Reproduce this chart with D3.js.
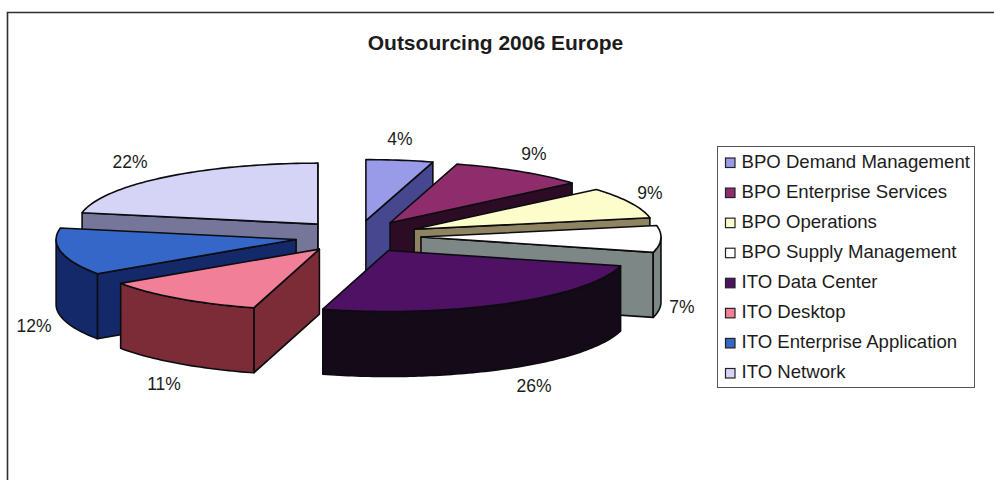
<!DOCTYPE html>
<html>
<head>
<meta charset="utf-8">
<script src="https://cdn.jsdelivr.net/npm/d3@7"></script>
<style>
  html, body { margin: 0; padding: 0; background: #fff; }
  text { font-family: "Liberation Sans", Arial, sans-serif; fill: #1c1c1c; }
</style>
</head>
<body>
<svg id="chart" width="994" height="480" style="display:block"></svg>
<script>
// Outsourcing spend by service line, clockwise from twelve o'clock
const categories = [
  "BPO Demand Management", "BPO Enterprise Services", "BPO Operations",
  "BPO Supply Management", "ITO Data Center", "ITO Desktop",
  "ITO Enterprise Application", "ITO Network"
];
const shares = [4, 9, 9, 7, 26, 11, 12, 22];
const topColors  = ["#9a9be8", "#8f2c6c", "#fdfdcb", "#ffffff", "#4e1164", "#f27f98", "#3467c8", "#d6d4f6"];
const wallColors = ["#47478f", "#2b0c24", "#8e8462", "#7d8886", "#140a18", "#7b2c36", "#14296a", "#76769a"];
// Stacking order of the exploded wedges, farthest first
const paintOrder = [0, 7, 1, 2, 3, 6, 5, 4];
// Label anchor points in chart space, by category
const labelX = [400, 534, 650, 682, 534, 164, 34, 130];
const labelY = [145, 160, 199, 313, 392, 390, 332, 168];

const svg = d3.select("#chart");

// Tilted pie geometry
const center = { x: 358, y: 236.5 };
const radiusX = 240, radiusY = 61;
const explodeX = 63, explodeY = 16;
const depth = 65;

const pie = d3.pie().value(d => d).sort(null);
const arcs = pie(shares);

// Perspective pulls rim points slightly towards the near side of the disc
const projected = a => a + 0.03 * Math.sin(a) + 0.035 * Math.sin(3 * a);

// Squash an angle (clockwise from the top) onto the tilted ellipse
const onRim = (cx, cy, a, dz = 0) => {
  const t = projected(a);
  return [cx + radiusX * Math.sin(t), cy - radiusY * Math.cos(t) + dz];
};

function rimPoints(cx, cy, a0, a1, dz = 0) {
  const steps = Math.max(2, Math.ceil(Math.abs(a1 - a0) / 0.02));
  return d3.range(steps + 1).map(i => onRim(cx, cy, a0 + (a1 - a0) * i / steps, dz));
}

const polygon = d3.line().curve(d3.curveLinearClosed);
const chartLayer = svg.append("g").attr("stroke", "#0c0c10").attr("stroke-width", 1.6).attr("stroke-linejoin", "round");

// Outer frame: left and top edges only, running off the page
svg.insert("path", ":first-child")
  .attr("d", d3.line()([[7.5, 480], [7.5, 12.5], [994, 12.5]]))
  .attr("fill", "none").attr("stroke", "#2e2e2e").attr("stroke-width", 1.6);

paintOrder.forEach(i => {
  const d = arcs[i];
  const mid = (d.startAngle + d.endAngle) / 2;
  const cx = center.x + explodeX * Math.sin(mid);
  const cy = center.y - explodeY * Math.cos(mid);
  const g = chartLayer.append("g").attr("class", "wedge").attr("fill", wallColors[i]);

  // Straight cut faces that turn towards the viewer
  if (Math.sin(d.startAngle) < 0) {
    const p = onRim(cx, cy, d.startAngle);
    g.append("path").attr("d", polygon([[cx, cy], p, [p[0], p[1] + depth], [cx, cy + depth]]));
  }
  if (Math.sin(d.endAngle) > 0) {
    const p = onRim(cx, cy, d.endAngle);
    g.append("path").attr("d", polygon([[cx, cy], p, [p[0], p[1] + depth], [cx, cy + depth]]));
  }

  // Curved outer wall along the front half of the ellipse
  const a0 = Math.max(d.startAngle, Math.PI / 2);
  const a1 = Math.min(d.endAngle, Math.PI * 1.5);
  if (a1 > a0) {
    g.append("path").attr("d", polygon(
      rimPoints(cx, cy, a0, a1).concat(rimPoints(cx, cy, a1, a0, depth))
    ));
  }

  // Top face
  g.append("path")
    .attr("fill", topColors[i])
    .attr("d", polygon([[cx, cy]].concat(rimPoints(cx, cy, d.startAngle, d.endAngle))));
});

// Percentage labels
svg.append("g").selectAll("text").data(shares).join("text")
  .attr("x", (d, i) => labelX[i])
  .attr("y", (d, i) => labelY[i])
  .attr("text-anchor", "middle")
  .attr("font-size", 17.5)
  .text(d => d + "%");

// Title
svg.append("text")
  .attr("x", 495.5).attr("y", 50)
  .attr("text-anchor", "middle")
  .attr("font-size", 21).attr("font-weight", "bold")
  .text("Outsourcing 2006 Europe");

// Legend
svg.append("rect")
  .attr("x", 717.5).attr("y", 146.5)
  .attr("width", 257).attr("height", 241)
  .attr("fill", "#fff").attr("stroke", "#555").attr("stroke-width", 1);

const rowScale = d3.scalePoint().domain(categories).range([162.5, 373]);
const legend = svg.append("g").selectAll("g").data(categories).join("g")
  .attr("transform", d => `translate(0,${rowScale(d)})`);
legend.append("rect")
  .attr("x", 725.5).attr("y", -4.5).attr("width", 9.5).attr("height", 9.5)
  .attr("fill", (d, i) => topColors[i])
  .attr("stroke", "#222").attr("stroke-width", 1.2);
legend.append("text")
  .attr("x", 741.5).attr("y", 5)
  .attr("font-size", 18.6)
  .text(d => d);
</script>
</body>
</html>
